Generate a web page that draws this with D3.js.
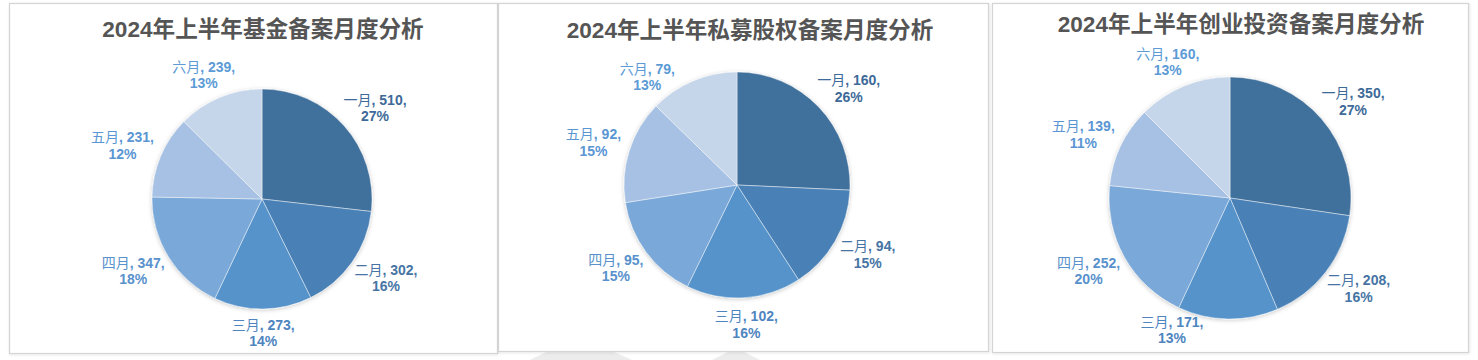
<!DOCTYPE html>
<html><head><meta charset="utf-8">
<script src="https://cdn.jsdelivr.net/npm/d3@7"></script>
<style>body{margin:0;background:#fff}svg{display:block}</style>
</head><body>
<svg id="c" width="1478" height="360"></svg>
<script>
const months = ["一月","二月","三月","四月","五月","六月"];
const fundValues = [510, 302, 273, 347, 231, 239];
const fundPcts = ["27%","16%","14%","18%","12%","13%"];
const peValues = [160, 94, 102, 95, 92, 79];
const pePcts = ["26%","15%","16%","15%","15%","13%"];
const vcValues = [350, 208, 171, 252, 139, 160];
const vcPcts = ["27%","16%","13%","20%","11%","13%"];
const titles = ["2024年上半年基金备案月度分析","2024年上半年私募股权备案月度分析","2024年上半年创业投资备案月度分析"];

const sliceColors = ["#41709c","#4a81b6","#5593ca","#7aa8d8","#a6c1e3","#c5d5ea"];
const labelColors = ["#3d6a98","#4674a4","#4e85bf","#5891cc","#5a96d3","#5c9bd6"];

const panels = [
  {title: titles[0], values: fundValues, pcts: fundPcts, box:[9,3,488,350], cx:262, cy:199, r:110, ty:37, tx:263, minY:58, maxY:350},
  {title: titles[1], values: peValues, pcts: pePcts, box:[498,3,490,348], cx:737, cy:185, r:113, ty:38, tx:750, minY:60, maxY:348},
  {title: titles[2], values: vcValues, pcts: vcPcts, box:[992,3,476,349], cx:1230, cy:198, r:121, ty:32, tx:1241, minY:45, maxY:347}
];

const svg = d3.select("#c");
const defs = svg.append("defs");
const f = defs.append("filter").attr("id","sh").attr("x","-20%").attr("y","-20%").attr("width","140%").attr("height","140%");
f.append("feDropShadow").attr("dx",0).attr("dy",1).attr("stdDeviation",2.2).attr("flood-color","#000").attr("flood-opacity",0.22);
const bf = defs.append("filter").attr("id","bs").attr("x","-5%").attr("y","-5%").attr("width","110%").attr("height","110%");
bf.append("feDropShadow").attr("dx",0.6).attr("dy",0.6).attr("stdDeviation",0.8).attr("flood-color","#000").attr("flood-opacity",0.15);

// faint watermark shapes
svg.append("polygon").attr("points","530,360 548,351 612,351 632,360").attr("fill","#ececec");
svg.append("polygon").attr("points","712,360 730,351 742,351 760,360").attr("fill","#ececec");

const color = d3.scaleOrdinal().domain(months).range(sliceColors);
const lcolor = d3.scaleOrdinal().domain(months).range(labelColors);

panels.forEach(p => {
  const [bx,by,bw,bh] = p.box;
  svg.append("rect").attr("x",bx+0.5).attr("y",by+0.5).attr("width",bw).attr("height",bh)
    .attr("fill","#fff").attr("stroke","#d4d4d4").attr("stroke-width",1.2).attr("filter","url(#bs)");

  svg.append("text").attr("x",p.tx).attr("y",p.ty).attr("text-anchor","middle")
    .attr("font-family","'Liberation Sans','Noto Sans CJK SC',sans-serif")
    .attr("font-weight","bold").attr("font-size",22.6).attr("fill","#555555").text(p.title);

  const data = months.map((m,i)=>({m, v:p.values[i], pct:p.pcts[i]}));
  const pie = d3.pie().value(d=>d.v).sort(null);
  const arcs = pie(data);
  const arc = d3.arc().innerRadius(0).outerRadius(p.r);
  const g = svg.append("g").attr("transform",`translate(${p.cx},${p.cy})`);
  const pg = g.append("g").attr("filter","url(#sh)");
  pg.selectAll("path").data(arcs).join("path")
    .attr("d",arc).attr("fill",d=>color(d.data.m))
    .attr("stroke","#ffffff").attr("stroke-opacity",0.55).attr("stroke-width",0.8);

  const lg = g.append("g").attr("font-family","'Liberation Sans','Noto Sans CJK SC',sans-serif").attr("font-size",14);
  arcs.forEach(a => {
    const mid = (a.startAngle + a.endAngle)/2;
    const s = Math.sin(mid), c = Math.cos(mid);
    const t = lg.append("text").attr("text-anchor","middle").attr("fill",lcolor(a.data.m));
    const l1 = t.append("tspan").attr("x",0).attr("dy",0);
    l1.append("tspan").attr("font-weight","normal").text(a.data.m);
    l1.append("tspan").attr("font-weight","bold").text(`, ${a.data.v},`);
    t.append("tspan").attr("x",0).attr("dy",16.5).attr("font-weight","bold").text(a.data.pct);
    const bb = t.node().getBBox();
    const halfW = bb.width/2, halfH = 17;
    const ar = p.r + 10;
    let cxl = ar*s + s*halfW;
    let cyl = -ar*c - c*halfH;
    const top = p.minY - p.cy + halfH, bot = p.maxY - p.cy - halfH;
    let clamped = false, edge = 0;
    if (cyl < top) { cyl = top; clamped = true; edge = cyl + 16; }
    if (cyl > bot) { cyl = bot; clamped = true; edge = cyl - 16; }
    if (clamped) {
      const R = p.r - 2;
      if (Math.abs(edge) < R) {
        const need = Math.sqrt(R*R - edge*edge) + halfW;
        const sg = s < 0 ? -1 : 1;
        if (Math.abs(cxl) < need || Math.sign(cxl) !== sg) cxl = sg*need;
      }
    }
    t.attr("transform",`translate(${cxl},${cyl - 8.25 + 5})`);
  });
});
</script>
</body></html>
